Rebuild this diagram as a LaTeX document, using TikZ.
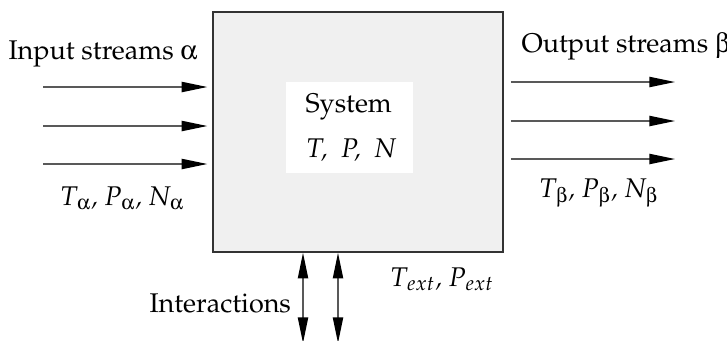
\documentclass[tikz,border=0pt]{standalone}
\usepackage[T1]{fontenc}
\usepackage{mathpazo}
\usepackage[Symbol]{upgreek}
\usetikzlibrary{arrows.meta,positioning}
\definecolor{boxgray}{gray}{0.94}

\begin{document}
\begin{tikzpicture}[x=0.37pt,y=-0.37pt,
		stream/.style={draw=black!65,line width=0.5pt,-{Triangle[length=9.5pt,width=3.8pt,color=black]}},
		both/.style={draw=black!65,line width=0.5pt,{Triangle[length=9.5pt,width=3.8pt,color=black]}-{Triangle[length=9.5pt,width=3.8pt,color=black]}},
		lbl/.style={inner sep=0pt,anchor=base west}]
	\useasboundingbox (0,0) rectangle (727,340);
	% the system
	\node[draw=black!80,fill=boxgray,line width=0.6pt,minimum width=107.3pt,minimum height=88.8pt] (sys) at (358,132) {};
	\node[fill=white,minimum width=47pt,minimum height=33.7pt] (core) at (349.5,127.5) {};
	\node[lbl] (sysname) at (305,112) {System};
	\node[lbl] (state) at (306,157) {\itshape T, \ P, \ N};
	% input streams
	\coordinate (in1) at (43,87);
	\coordinate (in2) at (43,126);
	\coordinate (in3) at (43,164);
	\draw[stream,shorten >=1.8pt] (in1) -- (sys.west |- in1);
	\draw[stream,shorten >=1.8pt] (in2) -- (sys.west |- in2);
	\draw[stream,shorten >=1.8pt] (in3) -- (sys.west |- in3);
	\node[lbl] (inlbl) at (8,59) {Input streams $\upalpha$};
	\node[lbl] (inprop) at (60,205) {\itshape T$_\upalpha$, P$_\upalpha$, N$_\upalpha$};
	% output streams
	\coordinate (out1) at (675,82);
	\coordinate (out2) at (675,121);
	\coordinate (out3) at (675,159);
	\draw[stream,shorten <=2.6pt] (sys.east |- out1) -- (out1);
	\draw[stream,shorten <=2.6pt] (sys.east |- out2) -- (out2);
	\draw[stream,shorten <=2.6pt] (sys.east |- out3) -- (out3);
	\node[lbl] (outlbl) at (521,52) {Output streams $\upbeta$};
	\node[lbl] (outprop) at (539,197) {\itshape T$_\upbeta$, P$_\upbeta$, N$_\upbeta$};
	% interactions
	\coordinate (ia) at (303,343);
	\coordinate (ib) at (338,343);
	\draw[both] (sys.south -| ia) -- (ia);
	\draw[both] (sys.south -| ib) -- (ib);
	\node[lbl] (inter) at (149,312) {Interactions};
	\node[lbl] (extprop) at (390,286) {\itshape T$_{ext}$, P$_{ext}$};
\end{tikzpicture}
\end{document}
